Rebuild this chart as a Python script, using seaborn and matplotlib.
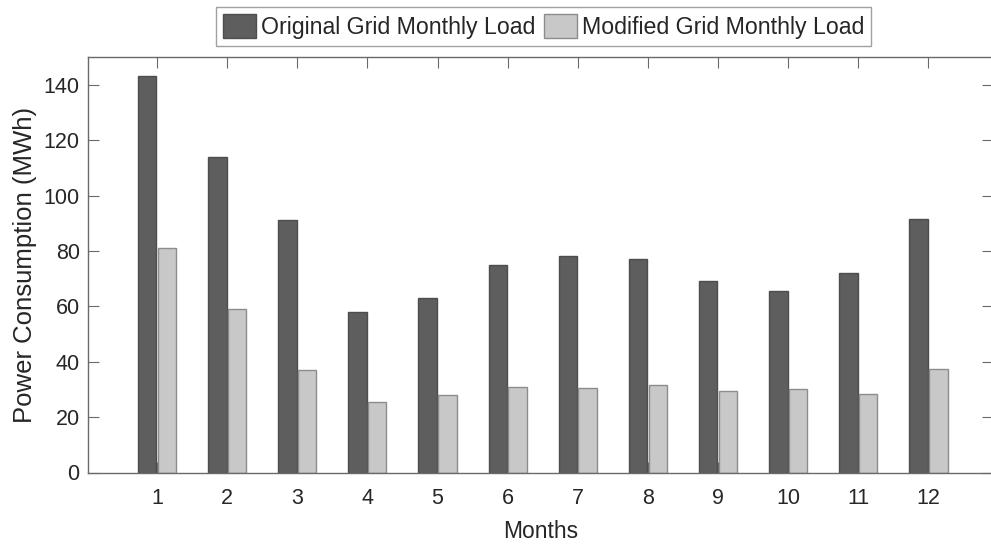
import matplotlib
matplotlib.use("Agg")
import matplotlib.pyplot as plt
from matplotlib.patches import Patch
import seaborn as sns
import pandas as pd

months = [str(m) for m in range(1, 13)]
original_load = [143, 114, 91, 58, 63, 75, 78, 77, 69, 65.5, 72, 91.5]
modified_load = [81, 59, 37, 25.5, 28, 31, 30.5, 31.5, 29.5, 30, 28.5, 37.5]
series_names = ["Original Grid Monthly Load", "Modified Grid Monthly Load"]
y_ticks = [0, 20, 40, 60, 80, 100, 120, 140]

df = pd.DataFrame({
    "Month": months * 2,
    "Load": original_load + modified_load,
    "Series": [series_names[0]] * 12 + [series_names[1]] * 12,
})

sns.set_theme(style="white")
plt.rcParams["font.family"] = ["Liberation Sans", "DejaVu Sans"]

text_color = "#262626"
axis_color = "#6a6a6a"
dark_fill, dark_edge = "#5e5e5e", "#4d4d4d"
light_fill, light_edge = "#c8c8c8", "#8c8c8c"

fig = plt.figure(figsize=(9.91, 5.45), dpi=100)
ax = fig.add_axes([88 / 991, 1 - 472.5 / 545, (993 - 88) / 991, (472.5 - 57) / 545])

sns.barplot(
    data=df, x="Month", y="Load", hue="Series", order=months,
    hue_order=series_names,
    palette=[dark_fill, light_fill],
    width=0.56, gap=0.06, ax=ax, legend=False,
    edgecolor=dark_edge, linewidth=1.0,
)
for patch in ax.patches[12:24]:
    patch.set_edgecolor(light_edge)

ax.set_xlim(-0.984, 11.92)
ax.set_ylim(0, 150)
ax.set_yticks(y_ticks)
ax.set_xlabel("Months", fontsize=16.5, color=text_color, labelpad=8)
ax.set_ylabel("Power Consumption (MWh)", fontsize=18.5, color=text_color, labelpad=5)

for side in ["left", "right", "top", "bottom"]:
    ax.spines[side].set_visible(True)
    ax.spines[side].set_color(axis_color)
    ax.spines[side].set_linewidth(1.0)

ax.tick_params(axis="both", which="both", direction="in", length=8, width=0.8,
               color=axis_color, labelsize=15.5, labelcolor=text_color,
               top=True, right=True, bottom=True, left=True)
ax.tick_params(axis="x", pad=11)
ax.tick_params(axis="y", pad=6)

handles = [
    Patch(facecolor=dark_fill, edgecolor=dark_edge, label=series_names[0]),
    Patch(facecolor=light_fill, edgecolor=light_edge, label=series_names[1]),
]
leg = fig.legend(handles=handles, loc="center", bbox_to_anchor=(0.5485, 0.951),
                 ncol=2, fontsize=16.7, frameon=True, fancybox=False,
                 handlelength=1.45, handleheight=1.2, handletextpad=0.2,
                 columnspacing=0.35, borderpad=0.3, borderaxespad=0)
leg.get_frame().set_edgecolor("#8a8a8a")
leg.get_frame().set_linewidth(1.0)
for t in leg.get_texts():
    t.set_color(text_color)

fig.savefig("out.png", dpi=100)
